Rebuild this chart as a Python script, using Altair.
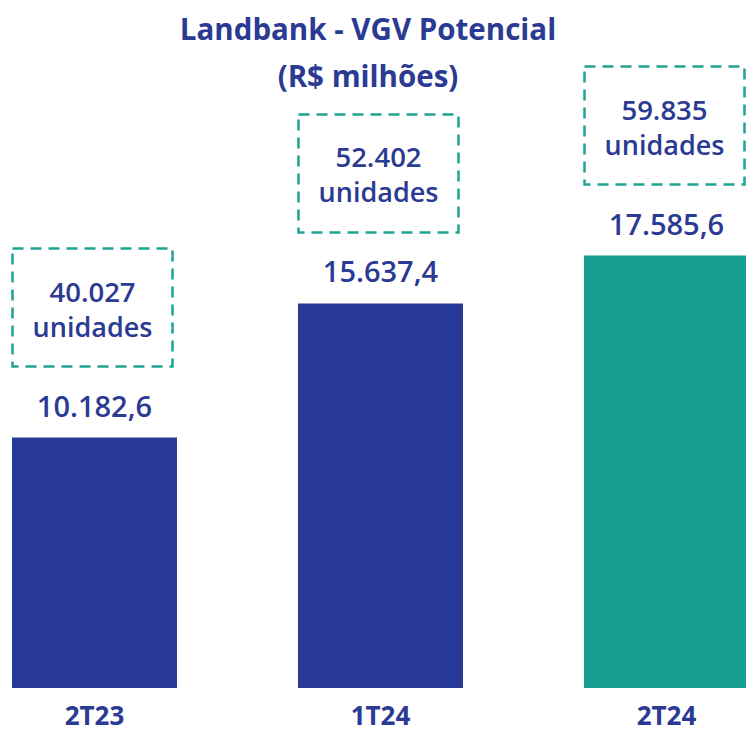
import altair as alt
import pandas as pd

categories = ["2T23", "1T24", "2T24"]
values = [10182.6, 15637.4, 17585.6]
value_labels = ["10.182,6", "15.637,4", "17.585,6"]
units = ["40.027", "52.402", "59.835"]
bar_colors = ["#283A97", "#283A97", "#179E91"]
title_text = "Landbank - VGV Potencial"
subtitle_text = "(R$ milhões)"

FONT = "Open Sans"
TEXT = "#2B3A92"
TEAL = "#1FA393"

df = pd.DataFrame({
    "cat": categories,
    "value": values,
    "label": value_labels,
    "units": units,
    "unit_word": ["unidades"] * len(categories),
    "color": bar_colors,
})

x = alt.X(
    "cat:N",
    sort=categories,
    scale=alt.Scale(range=[4, 741], paddingInner=0.423, paddingOuter=0),
    axis=alt.Axis(
        title=None, domain=False, ticks=False, grid=False, labelAngle=0,
        labelFont=FONT, labelFontSize=26, labelFontWeight="bold",
        labelColor=TEXT, labelPadding=36, labelBaseline="alphabetic",
    ),
)
y = alt.Y("value:Q", scale=alt.Scale(domain=[0, 27650], nice=False, zero=True), axis=None)

base = alt.Chart(df)

bars = base.mark_bar().encode(x=x, y=y, color=alt.Color("color:N", scale=None))

labels = base.mark_text(
    baseline="alphabetic", dy=-21, fontSize=29, fontWeight=600, font=FONT, color=TEXT
).encode(x=x, y=y, text="label:N")

boxes = base.mark_rect(
    fillOpacity=0, stroke=TEAL, strokeWidth=2.5, strokeDash=[11, 7],
    yOffset=-189, y2Offset=-71, xOffset=-2, width=160,
).encode(x=x, y=y, y2="value:Q")

box_num = base.mark_text(
    baseline="alphabetic", dy=-136, dx=-2, fontSize=27.5, fontWeight=600, font=FONT, color=TEXT
).encode(x=x, y=y, text="units:N")

box_word = base.mark_text(
    baseline="alphabetic", dy=-101, dx=-2, fontSize=27, fontWeight=600, font=FONT, color=TEXT
).encode(x=x, y=y, text="unit_word:N")

title = alt.Chart(pd.DataFrame({"t": [title_text]})).mark_text(
    baseline="alphabetic", fontSize=29.5, fontWeight="bold", font=FONT, color=TEXT
).encode(x=alt.value(360), y=alt.value(32), text="t:N")

subtitle = alt.Chart(pd.DataFrame({"t": [subtitle_text]})).mark_text(
    baseline="alphabetic", fontSize=29.5, fontWeight="bold", font=FONT, color=TEXT
).encode(x=alt.value(360), y=alt.value(79), text="t:N")

chart = alt.layer(bars, boxes, labels, box_num, box_word, title, subtitle).properties(
    width=738, height=680,
    padding={"left": 0, "top": 0, "right": 0, "bottom": 45},
    autosize="none",
).configure_view(stroke=None)

chart.save("out.html", embed_options={"renderer": "svg", "actions": False})
